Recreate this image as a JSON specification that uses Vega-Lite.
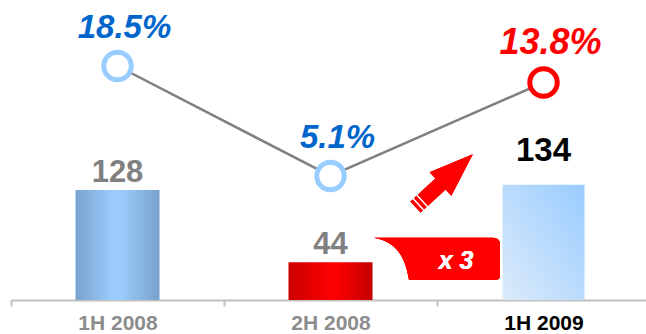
{
  "$schema": "https://vega.github.io/schema/vega-lite/v6.json",
  "width": 639,
  "height": 300,
  "autosize": {"type": "none"},
  "padding": {"left": 11, "top": 0, "right": 0, "bottom": 34},
  "background": "white",
  "config": {
    "view": {"stroke": null},
    "font": "Liberation Sans",
    "axisX": {
      "title": null,
      "labelAngle": 0,
      "domainColor": "#C0C0C0",
      "domainWidth": 2,
      "tickColor": "#C0C0C0",
      "tickWidth": 2,
      "tickSize": 6,
      "tickBand": "extent",
      "labelFont": "Liberation Sans",
      "labelFontSize": 21,
      "labelFontWeight": "bold",
      "labelPadding": 6,
      "grid": false
    }
  },
  "data": {
    "values": [
      {"period": "1H 2008", "value": 128, "pct": 0.185},
      {"period": "2H 2008", "value": 44, "pct": 0.051},
      {"period": "1H 2009", "value": 134, "pct": 0.138}
    ]
  },
  "encoding": {
    "x": {
      "field": "period",
      "type": "nominal",
      "sort": null,
      "scale": {"paddingInner": 0, "paddingOuter": 0},
      "axis": {
        "title": null,
        "labelColor": {"condition": {"test": "datum.value === '1H 2009'", "value": "#000000"}, "value": "#8C8C8C"}
      }
    }
  },
  "layer": [
    {
      "encoding": {
        "y": {"field": "value", "type": "quantitative", "scale": {"domain": [0, 349], "nice": false, "zero": true}, "axis": null}
      },
      "layer": [
        {
          "transform": [{"filter": "datum.period === '1H 2008'"}],
          "mark": {"type": "bar", "size": 84, "color": {"gradient": "linear", "x1": 0, "x2": 1, "y1": 0, "y2": 0,
            "stops": [{"offset": 0, "color": "#7AA3CF"}, {"offset": 0.45, "color": "#9BCCFD"}, {"offset": 0.55, "color": "#9ACBFB"}, {"offset": 1, "color": "#78A2CD"}]}}
        },
        {
          "transform": [{"filter": "datum.period === '2H 2008'"}],
          "mark": {"type": "bar", "size": 84, "color": {"gradient": "linear", "x1": 0, "x2": 1, "y1": 0, "y2": 0,
            "stops": [{"offset": 0, "color": "#CC0000"}, {"offset": 0.55, "color": "#FF0000"}, {"offset": 1, "color": "#C40000"}]}}
        },
        {
          "transform": [{"filter": "datum.period === '1H 2009'"}],
          "mark": {"type": "bar", "size": 82, "color": {"gradient": "linear", "x1": 0, "x2": 1, "y1": 1, "y2": 0,
            "stops": [{"offset": 0, "color": "#DCEBFA"}, {"offset": 1, "color": "#99CCFF"}]}}
        },
        {
          "transform": [{"filter": "datum.period !== '1H 2009'"}],
          "mark": {"type": "text", "baseline": "alphabetic", "dy": -8, "fontSize": 31, "fontWeight": "bold", "color": "#808080"},
          "encoding": {"text": {"field": "value", "type": "quantitative"}}
        },
        {
          "transform": [{"filter": "datum.period === '1H 2009'"}],
          "mark": {"type": "text", "baseline": "alphabetic", "dy": -24, "fontSize": 33, "fontWeight": "bold", "color": "#000000"},
          "encoding": {"text": {"field": "value", "type": "quantitative"}}
        },
        {
          "mark": {"type": "point", "filled": true, "opacity": 1, "size": 4, "color": "#FF0000", "strokeWidth": 0,
            "shape": "M 35.8,-29.8 L 14.3,11.8 L 8.6,5.5 L -9.0,21.8 L -19.2,10.8 L -1.6,-5.5 L -7.3,-11.8 Z M -10.5,23.1 L -12.7,25.2 L -22.9,14.2 L -20.7,12.1 Z M -14.2,26.5 L -16.4,28.6 L -26.6,17.6 L -24.4,15.5 Z"},
          "encoding": {
            "x": {"datum": "2H 2008", "type": "nominal", "bandPosition": 1},
            "y": {"datum": 135, "type": "quantitative", "scale": {"domain": [0, 349], "nice": false}, "axis": null}
          }
        },
        {
          "mark": {"type": "point", "filled": true, "opacity": 1, "size": 4, "color": "#FF0000", "strokeWidth": 0,
            "shape": "M -63,-21 L 56,-21 Q 63,-21 63,-14 L 63,17 Q 63,21 59,21 L -28,21 C -31,6 -35,-16 -63,-21 Z"},
          "encoding": {
            "x": {"datum": "2H 2008", "type": "nominal", "bandPosition": 1},
            "y": {"datum": 48, "type": "quantitative", "scale": {"domain": [0, 349], "nice": false}, "axis": null}
          }
        },
        {
          "mark": {"type": "text", "text": "x 3", "align": "center", "baseline": "alphabetic", "dx": 19, "dy": 10, "fontSize": 25, "fontWeight": "bold", "fontStyle": "italic", "color": "#FFFFFF"},
          "encoding": {
            "x": {"datum": "2H 2008", "type": "nominal", "bandPosition": 1},
            "y": {"datum": 48, "type": "quantitative", "scale": {"domain": [0, 349], "nice": false}, "axis": null}
          }
        }
      ]
    },
    {
      "encoding": {
        "y": {"field": "pct", "type": "quantitative", "scale": {"type": "pow", "exponent": -0.761, "domain": [0.0253, 10000000000], "zero": false, "nice": false}, "axis": null}
      },
      "layer": [
        {"mark": {"type": "line", "color": "#808080", "strokeWidth": 2.5}},
        {
          "mark": {"type": "point", "filled": false, "fill": "#FFFFFF", "opacity": 1, "strokeWidth": 5, "size": 755},
          "encoding": {
            "color": {"field": "period", "type": "nominal", "scale": {"domain": ["1H 2008", "2H 2008", "1H 2009"], "range": ["#99CCFF", "#99CCFF", "#FF0000"]}, "legend": null}
          }
        },
        {
          "mark": {"type": "text", "baseline": "alphabetic", "align": "center", "dx": 7, "dy": -28, "fontWeight": "bold", "fontStyle": "italic"},
          "encoding": {
            "text": {"field": "pct", "type": "quantitative", "format": ".1%"},
            "color": {"condition": {"test": "datum.period === '1H 2009'", "value": "#FF0000"}, "value": "#0066CC"},
            "size": {"condition": {"test": "datum.period === '1H 2009'", "value": 36}, "value": 33}
          }
        }
      ]
    }
  ],
  "resolve": {"scale": {"y": "independent"}}
}
